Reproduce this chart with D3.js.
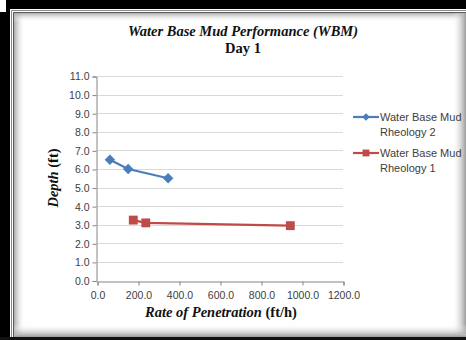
<!DOCTYPE html>
<html>
<head>
<meta charset="utf-8">
<script src="https://cdn.jsdelivr.net/npm/d3@7"></script>
<style>
  html, body { margin: 0; padding: 0; background: #fff; }
  svg { display: block; }
</style>
</head>
<body>
<svg id="chart" width="466" height="340"></svg>
<script>
// rate of penetration (ft/h) vs depth (ft)
const rheology2Rop = [63, 152, 347];
const rheology2Depth = [6.5, 6.0, 5.5];
const rheology1Rop = [177, 238, 943];
const rheology1Depth = [3.25, 3.1, 2.95];
const xTicks = [0, 200, 400, 600, 800, 1000, 1200];
const yTicks = [0, 1, 2, 3, 4, 5, 6, 7, 8, 9, 10, 11];

const series = [
  { name: ['Water Base Mud', 'Rheology 2'], color: '#4a7ebb', marker: 'diamond',
    points: rheology2Rop.map((x, i) => ({ x, y: rheology2Depth[i] })) },
  { name: ['Water Base Mud', 'Rheology 1'], color: '#be4b48', marker: 'square',
    points: rheology1Rop.map((x, i) => ({ x, y: rheology1Depth[i] })) },
];

const svg = d3.select('#chart');
const defs = svg.append('defs');

// frame: black outer border with a soft inner shadow
function shadeGrad(id, x1, y1, x2, y2) {
  const g = defs.append('linearGradient').attr('id', id)
    .attr('x1', x1).attr('y1', y1).attr('x2', x2).attr('y2', y2);
  g.append('stop').attr('offset', '0%').attr('stop-color', '#9a9a9a');
  g.append('stop').attr('offset', '100%').attr('stop-color', '#ffffff').attr('stop-opacity', 0);
}
shadeGrad('shL', '0', '0', '1', '0');
shadeGrad('shT', '0', '0', '0', '1');
shadeGrad('shR', '1', '0', '0', '0');
shadeGrad('shB', '0', '1', '0', '0');

svg.append('rect').attr('x', 6).attr('y', 0).attr('width', 460).attr('height', 9).attr('fill', '#000');
svg.append('rect').attr('x', 0).attr('y', 12).attr('width', 10).attr('height', 328).attr('fill', '#000');
svg.append('rect').attr('x', 6).attr('y', 9).attr('width', 4).attr('height', 4).attr('fill', '#000');
svg.append('rect').attr('x', 0).attr('y', 337).attr('width', 466).attr('height', 3).attr('fill', '#111');

svg.append('rect').attr('x', 10).attr('y', 9).attr('width', 456).attr('height', 328).attr('fill', '#fff');
svg.append('rect').attr('x', 13).attr('y', 12).attr('width', 12).attr('height', 322).attr('fill', 'url(#shL)');
svg.append('rect').attr('x', 13).attr('y', 12).attr('width', 450).attr('height', 10).attr('fill', 'url(#shT)');
svg.append('rect').attr('x', 452).attr('y', 12).attr('width', 14).attr('height', 322).attr('fill', 'url(#shR)');
svg.append('rect').attr('x', 13).attr('y', 324).attr('width', 453).attr('height', 13).attr('fill', 'url(#shB)');
svg.append('path').attr('d', 'M11.5,337V10.5H466').attr('fill', 'none').attr('stroke', '#8a8a8a');
svg.append('path').attr('d', 'M13.5,337V12.5H466').attr('fill', 'none').attr('stroke', '#5a5a5a');

// plot area
const x = d3.scaleLinear().domain([0, 1200]).range([97, 343]);
const y = d3.scaleLinear().domain([0, 11]).range([280.5, 76]);

const tickFont = '"Liberation Sans", Arial, sans-serif';

svg.append('g')
  .selectAll('line')
  .data(yTicks.slice(1))
  .join('line')
  .attr('x1', x(0)).attr('x2', x(1200))
  .attr('y1', (d) => Math.round(y(d)) + 0.5).attr('y2', (d) => Math.round(y(d)) + 0.5)
  .attr('stroke', '#d9d9d9');

const yAxis = svg.append('g')
  .attr('transform', `translate(${x(0) - 0.5},0.5)`)
  .call(d3.axisLeft(y).tickValues(yTicks).tickSize(4).tickFormat(d3.format('.1f')));
const xAxis = svg.append('g')
  .attr('transform', `translate(0.5,${Math.round(y(0)) + 0.5})`)
  .call(d3.axisBottom(x).tickValues(xTicks).tickSize(4).tickFormat(d3.format('.1f')));

[yAxis, xAxis].forEach((ax) => {
  ax.attr('font-size', null).attr('font-family', null);
  ax.select('.domain').attr('stroke', '#868686');
  ax.selectAll('.tick line').attr('stroke', '#868686');
  ax.selectAll('.tick text')
    .attr('fill', '#404040')
    .attr('font-family', tickFont)
    .attr('font-size', 10.5);
});
yAxis.selectAll('.tick text').attr('x', -7);
xAxis.selectAll('.tick text').attr('y', 10);

// series
const line = d3.line().x((d) => x(d.x)).y((d) => y(d.y));
series.forEach((s) => {
  svg.append('path')
    .datum(s.points)
    .attr('d', line)
    .attr('fill', 'none')
    .attr('stroke', s.color)
    .attr('stroke-width', 2.2);
  const sym = s.marker === 'diamond'
    ? d3.symbol(d3.symbolDiamond2, 70)
    : d3.symbol(d3.symbolSquare2, 100);
  svg.append('g')
    .selectAll('path')
    .data(s.points)
    .join('path')
    .attr('transform', (d) => `translate(${x(d.x)},${y(d.y)})`)
    .attr('d', sym)
    .attr('fill', s.color);
});

// titles
const serif = '"Liberation Serif", "Times New Roman", serif';
svg.append('text')
  .attr('x', 243).attr('y', 36)
  .attr('text-anchor', 'middle')
  .attr('font-family', serif).attr('font-weight', 'bold').attr('font-style', 'italic')
  .attr('font-size', 14.5).attr('fill', '#111')
  .text('Water Base Mud Performance (WBM)');
svg.append('text')
  .attr('x', 243).attr('y', 53)
  .attr('text-anchor', 'middle')
  .attr('font-family', serif).attr('font-weight', 'bold')
  .attr('font-size', 14.5).attr('fill', '#111')
  .text('Day 1');

const xLabel = svg.append('text')
  .attr('x', 221).attr('y', 317)
  .attr('text-anchor', 'middle')
  .attr('font-family', serif).attr('font-weight', 'bold')
  .attr('font-size', 14.5).attr('fill', '#111');
xLabel.append('tspan').attr('font-style', 'italic').text('Rate of Penetration');
xLabel.append('tspan').text(' (ft/h)');

const yLabel = svg.append('text')
  .attr('transform', 'translate(58,178) rotate(-90)')
  .attr('text-anchor', 'middle')
  .attr('font-family', serif).attr('font-weight', 'bold')
  .attr('font-size', 14.5).attr('fill', '#111');
yLabel.append('tspan').attr('font-style', 'italic').text('Depth');
yLabel.append('tspan').text(' (ft)');

// legend
const legend = svg.append('g').attr('transform', 'translate(353,117)');
series.forEach((s, i) => {
  const g = legend.append('g').attr('transform', `translate(0,${i * 36})`);
  g.append('line').attr('x1', 0).attr('x2', 26).attr('stroke', s.color).attr('stroke-width', 2.2);
  g.append('path')
    .attr('transform', 'translate(13,0)')
    .attr('d', s.marker === 'diamond' ? d3.symbol(d3.symbolDiamond2, 36) : d3.symbol(d3.symbolSquare2, 60))
    .attr('fill', s.color);
  g.selectAll('text')
    .data(s.name)
    .join('text')
    .attr('x', 27).attr('y', (d, j) => 4 + j * 15)
    .attr('font-family', tickFont).attr('font-size', 11)
    .attr('fill', '#404040')
    .text((d) => d);
});
</script>
</body>
</html>
